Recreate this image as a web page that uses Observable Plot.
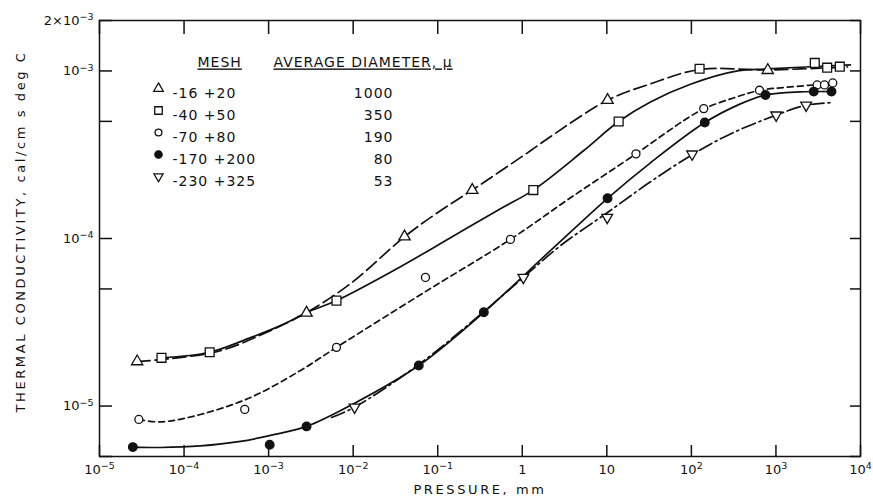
<!DOCTYPE html>
<html><head><meta charset="utf-8">
<script src="https://cdn.jsdelivr.net/npm/d3@7"></script>
<script src="https://cdn.jsdelivr.net/npm/@observablehq/plot@0.6"></script>
<style>
body{margin:0;background:#fff;}
#chart svg{display:block;}
</style></head><body><div id="chart"></div>
<script>
// ---- legend / series labels ----
const meshLabels = ["-16 +20","-40 +50","-70 +80","-170 +200","-230 +325"];
const diameterLabels = ["1000","350","190","80","53"];
const headerMesh = "MESH";
const headerDiameter = "AVERAGE DIAMETER, \u03bc";

// ---- axis ticks (label text; "^" marks the exponent) ----
const xTicks = [1e-5,1e-4,1e-3,1e-2,1e-1,1,10,1e2,1e3,1e4];
const xTickLabels = ["10^\u22125","10^\u22124","10^\u22123","10^\u22122","10^\u22121","1","10","10^2","10^3","10^4"];
const yTicks = [2e-3,1e-3,5e-4,1e-4,5e-5,1e-5,5e-6];
const yTickLabels = ["2\u00d710^\u22123","10^\u22123","5\u00d710^\u22124","10^\u22124","5\u00d710^\u22125","10^\u22125","5\u00d710^\u22126"];
const xLabel = "PRESSURE, mm";
const yLabel = "THERMAL CONDUCTIVITY, cal/cm s deg C";

// ---- measured points (pressure mm, conductivity cal/cm s degC) ----
const m16x = [2.79e-5, 2.81e-3, 0.0405, 0.256, 10.2, 800];
const m16y = [1.845e-5, 3.60e-5, 1.025e-4, 1.945e-4, 6.69e-4, 1.01e-3];
const m40x = [5.41e-5, 2.01e-4, 6.35e-3, 1.35, 13.8, 125, 2880, 4035, 5690];
const m40y = [1.94e-5, 2.095e-5, 4.26e-5, 1.945e-4, 4.99e-4, 1.03e-3, 1.116e-3, 1.046e-3, 1.06e-3];
const m70x = [2.92e-5, 5.22e-4, 6.35e-3, 0.0716, 0.724, 22.1, 140, 638, 3070, 3750, 4700];
const m70y = [8.32e-6, 9.55e-6, 2.24e-5, 5.86e-5, 9.88e-5, 3.20e-4, 5.96e-4, 7.67e-4, 8.25e-4, 8.25e-4, 8.48e-4];
const m170x = [2.48e-5, 1.03e-3, 2.81e-3, 0.0597, 0.351, 10.2, 144, 752, 2800, 4540];
const m170y = [5.69e-6, 5.88e-6, 7.56e-6, 1.746e-5, 3.63e-5, 1.738e-4, 4.92e-4, 7.19e-4, 7.53e-4, 7.53e-4];
const m230x = [0.0104, 1.03, 10.1, 102, 1006, 2275];
const m230y = [9.85e-6, 5.86e-5, 1.336e-4, 3.19e-4, 5.45e-4, 6.25e-4];

// ---- fitted curves ----
const c16x = [2.79e-5, 6.92e-5, 2.70e-4, 1.05e-3, 2.81e-3, 9.29e-3, 0.0405, 0.0993, 0.256, 1.25, 2.15, 10.2, 32.8, 125, 794, 7010];
const c16y = [1.845e-5, 1.92e-5, 2.14e-5, 2.82e-5, 3.61e-5, 5.38e-5, 1.025e-4, 1.425e-4, 1.945e-4, 3.34e-4, 4.05e-4, 6.69e-4, 8.37e-4, 1.02e-3, 1.014e-3, 1.056e-3];
const c40x = [5.41e-5, 2.01e-4, 6.11e-4, 1.38e-3, 2.81e-3, 6.35e-3, 0.0363, 0.1416, 0.552, 1.35, 5.30, 13.8, 32.8, 97.5, 351, 794, 7600];
const c40y = [1.94e-5, 2.095e-5, 2.56e-5, 3.02e-5, 3.61e-5, 4.26e-5, 6.79e-5, 1.011e-4, 1.506e-4, 1.945e-4, 3.34e-4, 4.99e-4, 6.53e-4, 8.33e-4, 1.0e-3, 1.028e-3, 1.086e-3];
const c70x = [2.92e-5, 5.26e-5, 1.56e-4, 6.11e-4, 2.38e-3, 6.35e-3, 0.0716, 0.724, 3.72, 22.1, 80.6, 140, 315, 638, 1486, 4790];
const c70y = [8.32e-6, 8.04e-6, 8.91e-6, 1.125e-5, 1.63e-5, 2.24e-5, 4.82e-5, 9.88e-5, 1.75e-4, 3.20e-4, 5.04e-4, 5.94e-4, 6.90e-4, 7.65e-4, 8.03e-4, 8.42e-4];
const c170x = [2.48e-5, 5.26e-5, 1.56e-4, 4.65e-4, 1.05e-3, 2.81e-3, 9.29e-3, 0.0597, 0.351, 2.15, 10.2, 32.8, 144, 380, 752, 1950, 4540];
const c170y = [5.69e-6, 5.66e-6, 5.78e-6, 6.15e-6, 6.68e-6, 7.56e-6, 1.009e-5, 1.746e-5, 3.63e-5, 8.46e-5, 1.738e-4, 2.83e-4, 4.92e-4, 6.36e-4, 7.19e-4, 7.50e-4, 7.53e-4];
const c230x = [5.55e-3, 0.0104, 0.0597, 0.351, 1.03, 2.83, 10.1, 32.8, 102, 290, 1006, 2275, 4790];
const c230y = [8.55e-6, 9.85e-6, 1.77e-5, 3.66e-5, 5.86e-5, 9.06e-5, 1.425e-4, 2.18e-4, 3.16e-4, 4.21e-4, 5.45e-4, 6.25e-4, 6.47e-4];

// ---- symbols ----
const triangleDown = {
  draw(context, size) {
    const s3 = Math.sqrt(3);
    const y = -Math.sqrt(size / (s3 * 3));
    context.moveTo(0, -y * 2);
    context.lineTo(-s3 * y, y);
    context.lineTo(s3 * y, y);
    context.closePath();
  }
};

const series = [
  {px: m16x, py: m16y, cx: c16x, cy: c16y, symbol: "triangle", r: 4.2, fill: "white", dash: "13,5"},
  {px: m40x, py: m40y, cx: c40x, cy: c40y, symbol: "square", r: 5, fill: "white", dash: null},
  {px: m70x, py: m70y, cx: c70x, cy: c70y, symbol: "circle", r: 4, fill: "white", dash: "6,4"},
  {px: m170x, py: m170y, cx: c170x, cy: c170y, symbol: "circle", r: 4.3, fill: "#111", dash: null},
  {px: m230x, py: m230y, cx: c230x, cy: c230y, symbol: triangleDown, r: 4, fill: "white", dash: "14,4,2,4"}
];

const W = 873, H = 503, mL = 99, mR = 13, mT = 20, mB = 47;
const fw = W - mL - mR, fh = H - mT - mB;
const ink = "#111";
const font = "DejaVu Sans";

const marks = [];
series.forEach(s => {
  const rows = s.cx.map((x, i) => ({x, y: s.cy[i]}));
  marks.push(Plot.line(rows, {x: "x", y: "y", curve: "catmull-rom", stroke: ink, strokeWidth: 1.7, strokeDasharray: s.dash}));
});
series.forEach(s => {
  const rows = s.px.map((x, i) => ({x, y: s.py[i]}));
  marks.push(Plot.dot(rows, {x: "x", y: "y", symbol: s.symbol, r: s.r, fill: s.fill, stroke: ink, strokeWidth: 1.3}));
});
marks.push(Plot.frame({stroke: ink, strokeWidth: 1.5}));
marks.push(Plot.tickY(yTicks, {y: d => d, insetRight: fw - 13, stroke: ink, strokeWidth: 1.5}));
marks.push(Plot.tickY(yTicks, {y: d => d, insetLeft: fw - 10, stroke: ink, strokeWidth: 1.5}));
marks.push(Plot.tickX(xTicks, {x: d => d, insetBottom: fh - 14, stroke: ink, strokeWidth: 1.5}));
marks.push(Plot.tickX(xTicks, {x: d => d, insetTop: fh - 11, stroke: ink, strokeWidth: 1.5}));
marks.push(Plot.axisX(xTicks, {tickSize: 0, tickPadding: 8, tickFormat: d => xTickLabels[xTicks.indexOf(d)], label: null, fill: ink, fontSize: 13}));
marks.push(Plot.axisY(yTicks, {tickSize: 0, tickPadding: 6, tickFormat: d => yTickLabels[yTicks.indexOf(d)], label: null, fill: ink, fontSize: 13}));
marks.push(Plot.text([xLabel], {text: d => d, frameAnchor: "bottom", dy: 37, fill: ink, fontSize: 13}));
marks.push(Plot.text([yLabel], {text: d => d, frameAnchor: "left", textAnchor: "middle", dx: -79, dy: -7, rotate: -90, fill: ink, fontSize: 13}));
marks.push(Plot.text([headerMesh], {text: d => d, frameAnchor: "top-left", dx: 98, dy: 37, textAnchor: "start", fill: ink, fontSize: 14}));
marks.push(Plot.text([headerDiameter], {text: d => d, frameAnchor: "top-left", dx: 174, dy: 37, textAnchor: "start", fill: ink, fontSize: 14}));
series.forEach((s, i) => {
  const dy = 68 + 22 * i;
  marks.push(Plot.dot([i], {frameAnchor: "top-left", dx: 59, dy, symbol: s.symbol, r: s.r * 0.85, fill: s.fill, stroke: ink, strokeWidth: 1.3}));
  marks.push(Plot.text([meshLabels[i]], {text: d => d, frameAnchor: "top-left", dx: 73, dy, textAnchor: "start", fill: ink, fontSize: 14}));
  marks.push(Plot.text([diameterLabels[i]], {text: d => d, frameAnchor: "top-left", dx: 294, dy, textAnchor: "end", fill: ink, fontSize: 14}));
});

const chart = Plot.plot({
  width: W, height: H,
  marginLeft: mL, marginRight: mR, marginTop: mT, marginBottom: mB,
  style: {fontFamily: font, background: "white", color: ink},
  x: {type: "log", domain: [1e-5, 1e4]},
  y: {type: "log", domain: [5e-6, 2e-3]},
  marks
});
document.getElementById("chart").appendChild(chart);
d3.select(chart).selectAll("text").each(function() {
  const t = this.textContent;
  if (t === xLabel || t === yLabel) this.style.letterSpacing = "2.6px";
  else if (t === headerMesh || t === headerDiameter) { this.style.letterSpacing = "1px"; this.style.textDecoration = "underline"; }
  else if (meshLabels.includes(t) || diameterLabels.includes(t)) this.style.letterSpacing = "1px";
  else if (xTickLabels.includes(t) || yTickLabels.includes(t)) {
    this.style.fontSize = "13px";
    const parts = t.split("^");
    if (parts.length === 2) {
      this.textContent = parts[0];
      const ts = document.createElementNS("http://www.w3.org/2000/svg", "tspan");
      ts.setAttribute("dy", "-0.45em");
      ts.setAttribute("font-size", "9.5px");
      ts.textContent = parts[1];
      this.appendChild(ts);
    }
  }
});
</script></body></html>
